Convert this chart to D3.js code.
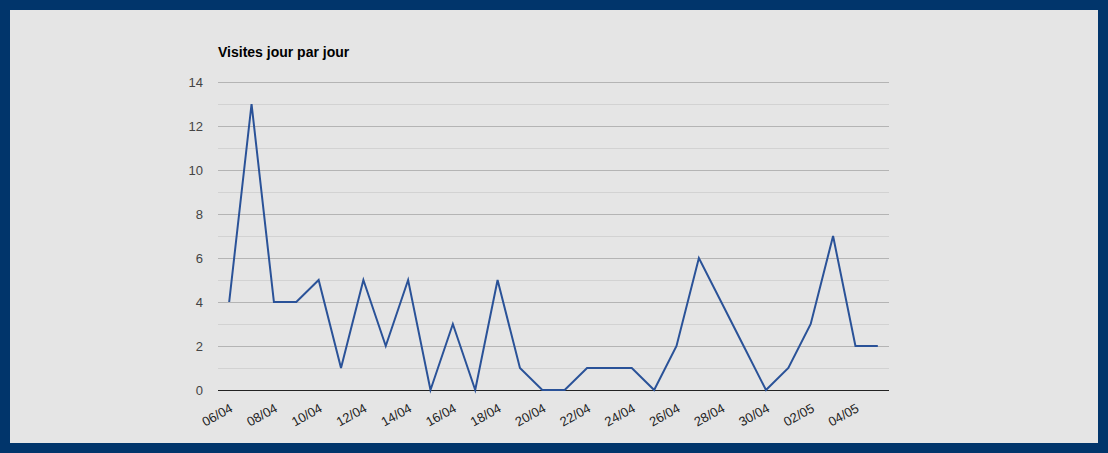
<!DOCTYPE html>
<html>
<head>
<meta charset="utf-8">
<script src="https://cdn.jsdelivr.net/npm/d3@7"></script>
<style>
  html, body { margin: 0; padding: 0; background: #01356b; }
  svg { display: block; font-family: "Liberation Sans", Arial, sans-serif; }
</style>
</head>
<body>
<script>
// days shown on the x axis (one point per day)
const days = ["06/04","07/04","08/04","09/04","10/04","11/04","12/04","13/04","14/04","15/04",
  "16/04","17/04","18/04","19/04","20/04","21/04","22/04","23/04","24/04","25/04",
  "26/04","27/04","28/04","29/04","30/04","01/05","02/05","03/05","04/05","05/05"];
// visits per day
const visits = [4,13,4,4,5,1,5,2,5,0,3,0,5,1,0,0,1,1,1,0,2,6,4,2,0,1,3,7,2,2];
const yTicks = [0,2,4,6,8,10,12,14];
const title = "Visites jour par jour";

const width = 1108, height = 453;
const plotLeft = 218, plotRight = 889, plotTop = 82, plotBottom = 390;

const svg = d3.select("body").append("svg")
  .attr("width", width)
  .attr("height", height);

// outer frame
svg.append("rect")
  .attr("x", 0).attr("y", 0)
  .attr("width", width).attr("height", height)
  .attr("fill", "#01356b");
svg.append("rect")
  .attr("x", 10).attr("y", 10)
  .attr("width", 1088).attr("height", 433)
  .attr("fill", "#e5e5e5");

let x = d3.scalePoint().domain(days).range([plotLeft, plotRight]).padding(0.5);
let y = d3.scaleLinear().domain([0, 14]).range([plotBottom, plotTop]);

// gridlines: minor every 1, major every 2
let grid = svg.append("g");
grid.selectAll("line")
  .data(d3.range(1, 15))
  .join("line")
  .attr("x1", plotLeft).attr("x2", plotRight)
  .attr("y1", d => y(d)).attr("y2", d => y(d))
  .attr("stroke", d => d % 2 === 0 ? "#b4b4b4" : "#d2d2d2")
  .attr("stroke-width", 1)
  .attr("shape-rendering", "crispEdges");

// y axis labels
let yAxis = svg.append("g")
  .attr("transform", `translate(${plotLeft},0)`)
  .call(d3.axisLeft(y).tickValues(yTicks).tickSize(0).tickPadding(15));
yAxis.select(".domain").remove();
yAxis.selectAll("text")
  .attr("font-size", 13)
  .attr("font-family", "Liberation Sans, Arial, sans-serif")
  .attr("fill", "#444");

// x axis labels, every second day, rotated
let xAxis = svg.append("g")
  .attr("transform", `translate(0,${plotBottom})`)
  .call(d3.axisBottom(x).tickValues(days.filter((d, i) => i % 2 === 0)).tickSize(0).tickPadding(0));
xAxis.select(".domain").remove();
xAxis.selectAll("text")
  .attr("font-size", 13)
  .attr("font-family", "Liberation Sans, Arial, sans-serif")
  .attr("fill", "#222")
  .attr("text-anchor", "end")
  .attr("dy", null)
  .attr("y", 0)
  .attr("transform", "translate(4,21) rotate(-29)");

// baseline
svg.append("line")
  .attr("x1", plotLeft).attr("x2", plotRight)
  .attr("y1", y(0)).attr("y2", y(0))
  .attr("stroke", "#222")
  .attr("stroke-width", 1)
  .attr("shape-rendering", "crispEdges");

// the line itself
let line = d3.line()
  .x((d, i) => x(days[i]))
  .y(d => y(d));
svg.append("path")
  .datum(visits)
  .attr("d", line)
  .attr("fill", "none")
  .attr("stroke", "#2a5298")
  .attr("stroke-width", 2)
  .attr("stroke-linejoin", "miter");

// title
svg.append("text")
  .attr("x", plotLeft).attr("y", 57)
  .attr("font-size", 14)
  .attr("font-weight", "bold")
  .attr("fill", "#000")
  .text(title);
</script>
</body>
</html>
